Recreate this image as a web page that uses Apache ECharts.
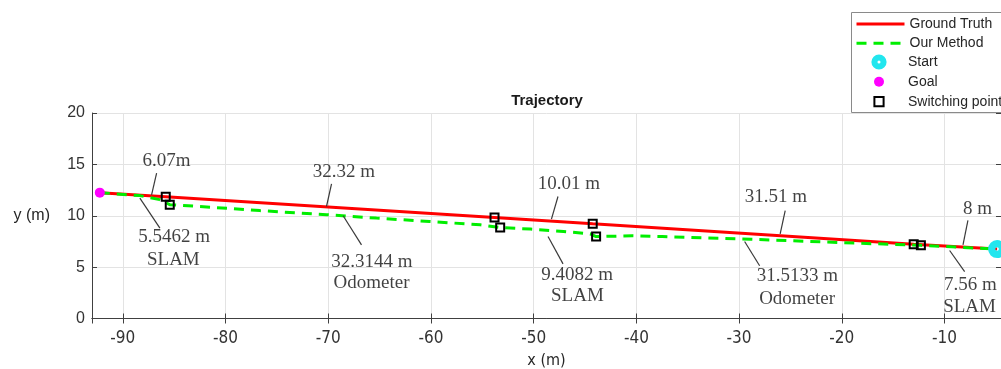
<!DOCTYPE html>
<html>
<head>
<meta charset="utf-8">
<script src="https://cdn.jsdelivr.net/npm/echarts@6/dist/echarts.min.js"></script>
<style>
  html, body { margin: 0; padding: 0; background: #fff; }
  #main { width: 1001px; height: 369px; }
</style>
</head>
<body>
<div id="main"></div>
<script>
// ground truth trajectory (x, y in m)
const truthX = [-92.24, -85.82, -53.81, -44.25, -13.0, -4.88]
const truthY = [12.25, 11.86, 9.83, 9.21, 7.22, 6.76]

// our method (dashed)
const methodX = [-92.24, -88.35, -86.4, -85.43, -82.5, -76.67, -70.16, -65.3, -60.14, -55.2, -53.26, -50.3, -47.1, -44.5, -43.92, -40.4, -37.47, -28.8, -18.1, -12.3, -4.88]
const methodY = [12.25, 11.96, 11.57, 11.08, 10.9, 10.5, 10.1, 9.77, 9.44, 9.12, 8.85, 8.7, 8.47, 8.24, 7.97, 8.05, 7.98, 7.71, 7.32, 7.12, 6.76]

const startPt = [-4.88, 6.76]
const goalPt = [-92.24, 12.25]

// switching points
const switchX = [-85.82, -85.43, -53.81, -53.26, -44.25, -43.92, -13.0, -12.3]
const switchY = [11.86, 11.08, 9.83, 8.85, 9.21, 7.97, 7.22, 7.12]

// text annotations, anchored in data coords
const annoText = ['6.07m', '5.5462 m', 'SLAM', '32.32 m', '32.3144 m', 'Odometer', '10.01 m', '9.4082 m', 'SLAM', '31.51 m', '31.5133 m', 'Odometer', '8 m', '7.56 m', 'SLAM']
const annoX = [-85.74, -85.01, -85.08, -68.48, -65.76, -65.79, -46.58, -45.76, -45.74, -26.41, -24.32, -24.35, -6.78, -7.48, -7.56]
const annoY = [15.28, 7.9, 5.71, 14.28, 5.47, 3.47, 13.11, 4.25, 2.14, 11.8, 4.09, 1.92, 10.61, 3.28, 1.14]

// leader lines [x1, y1, x2, y2]
const leaders = [
  [-86.71, 14.15, -87.2, 12.04],
  [-88.34, 11.72, -86.39, 8.8],
  [-69.68, 13.11, -70.17, 10.9],
  [-68.55, 10.0, -66.76, 7.17],
  [-47.63, 11.87, -48.27, 9.67],
  [-48.6, 7.98, -47.14, 5.32],
  [-25.51, 10.51, -26.0, 8.24],
  [-29.46, 7.49, -28.0, 5.13],
  [-7.72, 9.54, -8.2, 7.17],
  [-9.5, 6.62, -8.04, 4.57]
]

const xMin = -93
const xMax = -4.5

const sans = 'Arial, "Liberation Sans", sans-serif'
const narrow = '"Liberation Sans Narrow", "DejaVu Sans Condensed", Arial, sans-serif'
const serif = '"Times New Roman", "Liberation Serif", serif'
const axisColor = '#404040'

const zip = (xs, ys) => xs.map((x, i) => [x, ys[i]])

const startIcon = 'path://M0,-8A8,8,0,1,0,0,8A8,8,0,1,0,0,-8ZM0,-1.6A1.6,1.6,0,1,1,0,1.6A1.6,1.6,0,1,1,0,-1.6Z'
const squareIcon = 'path://M0,0L10,0L10,10L0,10Z'

// invisible connecting line for marker-only series
const noLine = { width: 0, opacity: 0 }

const legendBase = {
  orient: 'vertical',
  left: 855,
  itemWidth: 48,
  padding: 0,
  selectedMode: false,
  textStyle: { fontSize: 14, color: '#262626', fontFamily: sans, lineHeight: 16 }
}

const myChart = echarts.init(document.getElementById('main'))
myChart.setOption({
  animation: false,
  backgroundColor: '#fff',
  title: {
    text: 'Trajectory',
    left: 547,
    top: 93,
    textAlign: 'center',
    padding: 0,
    textStyle: { fontSize: 15, fontWeight: 'bold', color: '#1a1a1a', fontFamily: sans }
  },
  graphic: [
    {
      type: 'rect',
      left: 851,
      top: 12,
      z: 10,
      shape: { width: 170, height: 100 },
      style: { fill: '#fff', stroke: '#8a8a8a', lineWidth: 1 }
    }
  ],
  legend: [
    Object.assign({}, legendBase, {
      data: ['Ground Truth', 'Our Method'],
      top: 16,
      itemHeight: 14,
      itemGap: 3.3,
      z: 20,
      itemStyle: { opacity: 0 },
      lineStyle: { width: 3 }
    }),
    Object.assign({}, legendBase, { data: ['Start'], top: 54, itemHeight: 19, z: 20 }),
    Object.assign({}, legendBase, { data: ['Goal'], top: 73.7, itemHeight: 12.5, z: 20 }),
    Object.assign({}, legendBase, { data: ['Switching point'], top: 93.7, itemHeight: 11.5, z: 20 })
  ],
  grid: {
    left: 92,
    top: 113,
    width: 909,
    height: 205.5,
    containLabel: false,
    outerBoundsMode: 'none'
  },
  xAxis: [
    {
      type: 'value',
      min: xMin,
      max: xMax,
      minInterval: 10,
      maxInterval: 10,
      name: 'x (m)',
      nameLocation: 'middle',
      nameGap: 21,
      nameTextStyle: { fontSize: 16, color: '#262626', fontFamily: narrow },
      axisLine: { show: true, lineStyle: { color: axisColor, width: 1 } },
      axisTick: { show: true, inside: true, length: 5, lineStyle: { color: axisColor } },
      axisLabel: {
        fontSize: 17,
        color: '#333',
        fontFamily: narrow,
        margin: 12,
        formatter: v => (Math.abs(v % 10) < 1e-6 ? String(v) : '')
      },
      splitLine: { show: true, lineStyle: { color: '#e3e3e3', width: 1 } }
    },
    {
      type: 'value',
      position: 'top',
      min: xMin,
      max: xMax,
      minInterval: 10,
      maxInterval: 10,
      axisLine: { show: true, lineStyle: { color: axisColor, width: 1 } },
      axisTick: { show: true, inside: true, length: 5, lineStyle: { color: axisColor } },
      axisLabel: { show: false },
      splitLine: { show: false }
    }
  ],
  yAxis: [
    {
      type: 'value',
      min: 0,
      max: 20,
      interval: 5,
      name: 'y (m)',
      nameLocation: 'middle',
      nameRotate: 0,
      nameGap: 42,
      nameTextStyle: { fontSize: 16, color: '#262626', fontFamily: sans },
      axisLine: { show: true, lineStyle: { color: axisColor, width: 1 } },
      axisTick: { show: true, inside: true, length: 5, lineStyle: { color: axisColor } },
      axisLabel: { fontSize: 16, color: '#333', fontFamily: sans, margin: 7 },
      splitLine: { show: true, lineStyle: { color: '#e3e3e3', width: 1 } }
    },
    {
      type: 'value',
      position: 'right',
      min: 0,
      max: 20,
      interval: 5,
      axisLine: { show: true, lineStyle: { color: axisColor, width: 1 } },
      axisTick: { show: true, inside: true, length: 5, lineStyle: { color: axisColor } },
      axisLabel: { show: false },
      splitLine: { show: false }
    }
  ],
  series: [
    {
      name: 'Ground Truth',
      type: 'line',
      data: zip(truthX, truthY),
      symbol: 'none',
      showSymbol: false,
      z: 2,
      lineStyle: { color: '#ff0000', width: 3 },
      itemStyle: { color: '#ff0000' }
    },
    {
      name: 'Our Method',
      type: 'line',
      data: zip(methodX, methodY),
      symbol: 'none',
      showSymbol: false,
      z: 3,
      lineStyle: { color: '#00ee00', width: 3, type: [10, 7] },
      itemStyle: { color: '#00ee00' }
    },
    {
      name: 'Goal',
      type: 'line',
      data: [goalPt],
      symbol: 'circle',
      symbolSize: 10,
      z: 5,
      lineStyle: noLine,
      itemStyle: { color: '#ff00ff' }
    },
    {
      name: 'Switching point',
      type: 'line',
      data: zip(switchX, switchY),
      symbol: squareIcon,
      symbolSize: 8,
      symbolKeepAspect: true,
      showAllSymbol: true,
      z: 5,
      lineStyle: noLine,
      itemStyle: { color: 'rgba(0,0,0,0)', borderColor: '#000', borderWidth: 2 }
    },
    {
      name: 'Start',
      type: 'line',
      data: [startPt],
      symbol: startIcon,
      symbolSize: 18,
      z: 6,
      lineStyle: noLine,
      itemStyle: { color: '#22e6ee' }
    },
    {
      name: 'annotations',
      type: 'scatter',
      data: annoText.map((t, i) => [annoX[i], annoY[i], t]),
      symbolSize: 0,
      silent: true,
      z: 7,
      label: {
        show: true,
        position: 'inside',
        formatter: p => p.data[2],
        fontSize: 19,
        color: '#111',
        fontFamily: serif
      },
      markLine: {
        silent: true,
        symbol: ['none', 'none'],
        label: { show: false },
        lineStyle: { color: '#3a3a3a', width: 1.2, type: 'solid' },
        data: leaders.map(l => [{ coord: [l[0], l[1]] }, { coord: [l[2], l[3]] }])
      }
    }
  ]
})
</script>
</body>
</html>
